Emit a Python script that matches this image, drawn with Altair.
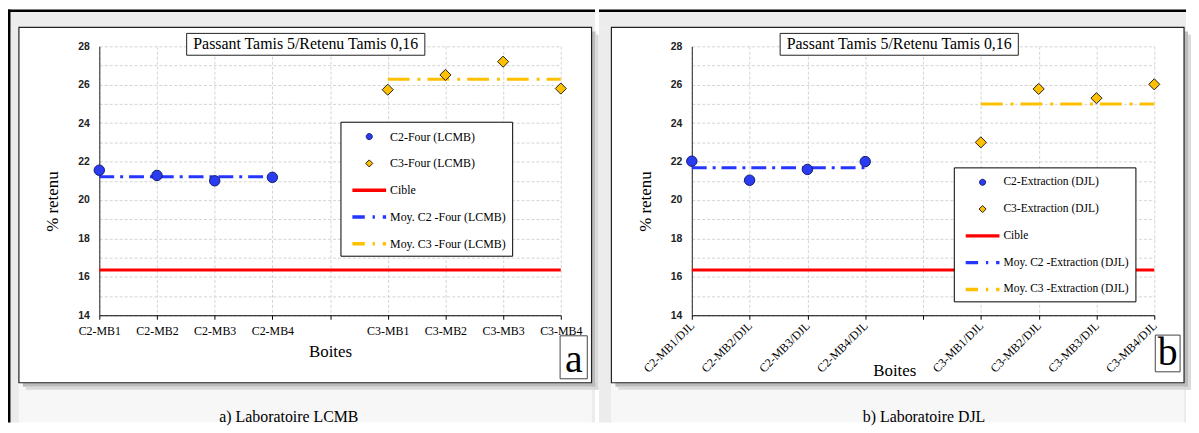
import altair as alt
import pandas as pd

# ---------------- data ----------------
CATS_A = ["C2-MB1", "C2-MB2", "C2-MB3", "C2-MB4", " ", "C3-MB1", "C3-MB2", "C3-MB3", "C3-MB4"]
CATS_B = ["C2-MB1/DJL", "C2-MB2/DJL", "C2-MB3/DJL", "C2-MB4/DJL", " ",
          "C3-MB1/DJL", "C3-MB2/DJL", "C3-MB3/DJL", "C3-MB4/DJL"]

C2_A = [21.55, 21.28, 21.0, 21.18]
C3_A = [25.74, 26.51, 27.2, 25.8]
MEAN_C2_A = 21.21
MEAN_C3_A = 26.29

C2_B = [22.02, 21.03, 21.59, 22.0]
C3_B = [23.0, 25.78, 25.3, 26.02]
MEAN_C2_B = 21.68
MEAN_C3_B = 25.0

CIBLE = 16.35

SERIES_A = ["C2-Four (LCMB)", "C3-Four (LCMB)", "Cible",
            "Moy. C2 -Four (LCMB)", "Moy. C3 -Four (LCMB)"]
SERIES_B = ["C2-Extraction (DJL)", "C3-Extraction (DJL)", "Cible",
            "Moy. C2 -Extraction (DJL)", "Moy. C3 -Extraction (DJL)"]

TITLE = "Passant Tamis 5/Retenu Tamis 0,16"
Y_TITLE = "% retenu"
X_TITLE = "Boites"
CAPTION_A = "a) Laboratoire LCMB"
CAPTION_B = "b) Laboratoire DJL"
LETTER_A = "a"
LETTER_B = "b"
Y_DOMAIN = [14, 28]
Y_GRID = list(range(14, 29))

# ---------------- styles ----------------
SERIF = "Liberation Serif"
SANS = "Liberation Sans"
BLUE = "#2a3cf2"
NAVY = "#141a70"
BLUE_LINE = "#2436ff"
GOLD = "#ffc000"
RED = "#ff0000"
GRID = "#d4d4d4"
BAND = "#ececec"
BAND_LOW = "#f7f7f7"
H = 271

# legend symbol shapes (unit square paths)
CIRCLE_PATH = "M-0.36,0A0.36,0.36,0,1,1,0.36,0A0.36,0.36,0,1,1,-0.36,0Z"
DIAMOND_PATH = "M-0.42,0L0,-0.42L0.42,0L0,0.42Z"
SOLID_PATH = "M-2,-0.2L2,-0.2L2,0.2L-2,0.2Z"
DASHDOT_PATH = ("M-2,-0.2L-0.53,-0.2L-0.53,0.2L-2,0.2Z"
                "M0.4,-0.2L0.67,-0.2L0.67,0.2L0.4,0.2Z"
                "M1.6,-0.2L2,-0.2L2,0.2L1.6,0.2Z")

one = pd.DataFrame({"k": [0]})


def rect(x1, x2, y1, y2, **kw):
    return alt.Chart(one).mark_rect(**kw).encode(
        x=alt.value(x1), x2=alt.value(x2), y=alt.value(y1), y2=alt.value(y2))


def text(x, y, s, **kw):
    return alt.Chart(one).mark_text(**kw).encode(
        x=alt.value(x), y=alt.value(y), text=alt.value(s))


def panel(cats, c2, c3, m2, m3, series, g):
    W = g["W"]
    xs = alt.Scale(type="point", domain=cats, padding=0)
    ys = alt.Scale(domain=Y_DOMAIN, nice=False, zero=False)
    xaxis = alt.Axis(
        title=X_TITLE, labelFont=SERIF, labelFontSize=12, labelColor="black",
        labelAngle=g["angle"], labelAlign=g["lalign"], labelBaseline=g["lbase"],
        labelPadding=g["lpad"], labelFlush=False, labelOverlap=False,
        tickSize=4, tickColor="black", domainColor="black",
        grid=True, gridColor=GRID, gridDash=[3, 2],
        titleFont=SERIF, titleFontSize=17, titleFontWeight="normal", titleColor="black",
        titleX=g["tx"], titleY=g["ty"], titleBaseline="middle", titleAlign="center")
    yaxis = alt.Axis(
        title=Y_TITLE, values=Y_GRID,
        labelExpr="datum.value % 2 == 0 ? datum.label : ''",
        ticks=False, labelPadding=10, labelFont=SANS, labelFontSize=10.5,
        labelFontWeight="bold", labelColor="#222", domainColor="#222",
        grid=True, gridColor=GRID, gridDash=[3, 2],
        titleFont=SERIF, titleFontSize=17, titleFontWeight="normal", titleColor="black",
        titleX=-47, titleY=156, titleBaseline="middle", titleAlign="center")

    bl, br = g["band"]
    deco = [
        rect(bl, br, -37, -34.5, color="black"),
        rect(bl, br, -34.5, -19, color=BAND),
        rect(bl if not g["leftline"] else -89.5, -81, -19, 379, color=BAND),
        rect(496, br, -19, 379, color=BAND),
        rect(-81, 496, 339, 379, color=BAND_LOW),
        rect(496, 500, -15, 343, color="#bcbcbc"),
        rect(500, 503, -12, 346, color="#dadada"),
        rect(-77, 500, 339, 343, color="#bcbcbc"),
        rect(-74, 503, 343, 346, color="#dadada"),
        rect(-81, 496, -19, 339, fillOpacity=0, stroke="#222", strokeWidth=1.2),
    ]
    if g["leftline"]:
        deco.append(rect(-92, -89.5, -37, 379, color="black"))

    cible = alt.Chart(pd.DataFrame({"v": [CIBLE]})).mark_rule(
        color=RED, strokeWidth=3).encode(y=alt.Y("v:Q", scale=ys, axis=yaxis))
    mean2 = alt.Chart(pd.DataFrame({"cat": cats[:4], "v": [m2] * 4})).mark_line(
        color=BLUE_LINE, strokeWidth=3, strokeDash=[15, 6, 3, 6]).encode(
        x=alt.X("cat:N", scale=xs, axis=xaxis, sort=cats), y=alt.Y("v:Q", scale=ys, axis=yaxis))
    mean3 = alt.Chart(pd.DataFrame({"cat": cats[5:], "v": [m3] * 4})).mark_line(
        color=GOLD, strokeWidth=3, strokeDash=[22, 8, 3, 7]).encode(
        x=alt.X("cat:N", scale=xs, axis=xaxis, sort=cats), y=alt.Y("v:Q", scale=ys, axis=yaxis))
    pts2 = alt.Chart(pd.DataFrame({"cat": cats[:4], "v": c2})).mark_point(
        filled=True, shape="circle", size=110, fill=BLUE, stroke=NAVY, strokeWidth=1,
        opacity=1).encode(x=alt.X("cat:N", scale=xs, axis=xaxis, sort=cats),
                          y=alt.Y("v:Q", scale=ys, axis=yaxis))
    pts3 = alt.Chart(pd.DataFrame({"cat": cats[5:], "v": c3})).mark_point(
        filled=True, shape="diamond", size=125, fill=GOLD, stroke="#222", strokeWidth=1,
        opacity=1).encode(x=alt.X("cat:N", scale=xs, axis=xaxis, sort=cats),
                          y=alt.Y("v:Q", scale=ys, axis=yaxis))

    tb = [
        rect(g["tb"][0], g["tb"][1], -13, 9, fill="white", stroke="#222", strokeWidth=1),
        text((g["tb"][0] + g["tb"][1]) / 2, -2, TITLE, font=SERIF, fontSize=16,
             color="black", align="center", baseline="middle"),
        rect(g["lb"][0], g["lb"][1], g["lb"][2], g["lb"][3], fill="white",
             stroke="#444", strokeWidth=1),
        text((g["lb"][0] + g["lb"][1]) / 2, g["lb"][3] - 7, g["letter"], font=SERIF,
             fontSize=40, color="black", align="center", baseline="alphabetic"),
        text(g["cx"], 374, g["caption"], font=SERIF, fontSize=16, color="black",
             align="center", baseline="middle"),
    ]

    legend = alt.Legend(title=None, orient="none", legendX=g["lx"], legendY=g["ly"],
                        fillColor="white", strokeColor="black", padding=6, rowPadding=12,
                        symbolOffset=14, labelOffset=12, labelFont=SERIF,
                        labelFontSize=g["lfs"], labelColor="black", labelLimit=300)
    dom = series
    leg = alt.Chart(pd.DataFrame({"series": series})).transform_filter("false").mark_point(
        filled=True, opacity=1).encode(
        fill=alt.Fill("series:N", scale=alt.Scale(
            domain=dom, range=[BLUE, GOLD, RED, BLUE_LINE, GOLD]), legend=legend),
        stroke=alt.Stroke("series:N", scale=alt.Scale(
            domain=dom, range=[NAVY, "#222", "transparent", "transparent", "transparent"]),
            legend=legend),
        shape=alt.Shape("series:N", scale=alt.Scale(
            domain=dom, range=[CIRCLE_PATH, DIAMOND_PATH, SOLID_PATH, DASHDOT_PATH, DASHDOT_PATH]),
            legend=legend),
        size=alt.Size("series:N", scale=alt.Scale(
            domain=dom, range=[289, 289, 225, 225, 225]), legend=legend),
        strokeWidth=alt.StrokeWidth("series:N", scale=alt.Scale(
            domain=dom, range=[1, 1, 3, 3, 3]), legend=legend),
    )

    layers = deco + [cible, mean2, mean3, pts2, pts3] + tb + [leg]
    return alt.layer(*layers).properties(width=W, height=H)


GEO_A = dict(W=465, angle=0, lalign="center", lbase="top", lpad=6, tx=232.5, ty=37,
             band=(-92, 499.5), leftline=True, tb=(88, 328), lb=(464.3, 491.7, 291.7, 335),
             letter=LETTER_A, cx=191, caption=CAPTION_A, lx=243, ly=76, lfs=12)
GEO_B = dict(W=466, angle=-45, lalign="right", lbase="middle", lpad=4, tx=204, ty=56,
             band=(-93.5, 498), leftline=False, tb=(89, 329), lb=(467, 492, 291, 328),
             letter=LETTER_B, cx=234, caption=CAPTION_B, lx=264, ly=122, lfs=11.6)

left = panel(CATS_A, C2_A, C3_A, MEAN_C2_A, MEAN_C3_A, SERIES_A, GEO_A)
right = panel(CATS_B, C2_B, C3_B, MEAN_C2_B, MEAN_C3_B, SERIES_B, GEO_B)

ind = dict(fill="independent", stroke="independent", shape="independent",
           size="independent", strokeWidth="independent")
chart = (
    alt.hconcat(left, right, spacing=0)
    .resolve_scale(**ind)
    .resolve_legend(**ind)
    .properties(padding=0, background="white")
    .configure_view(stroke=None)
)

chart.save("out.html", embed_options={"renderer": "svg", "actions": False})
